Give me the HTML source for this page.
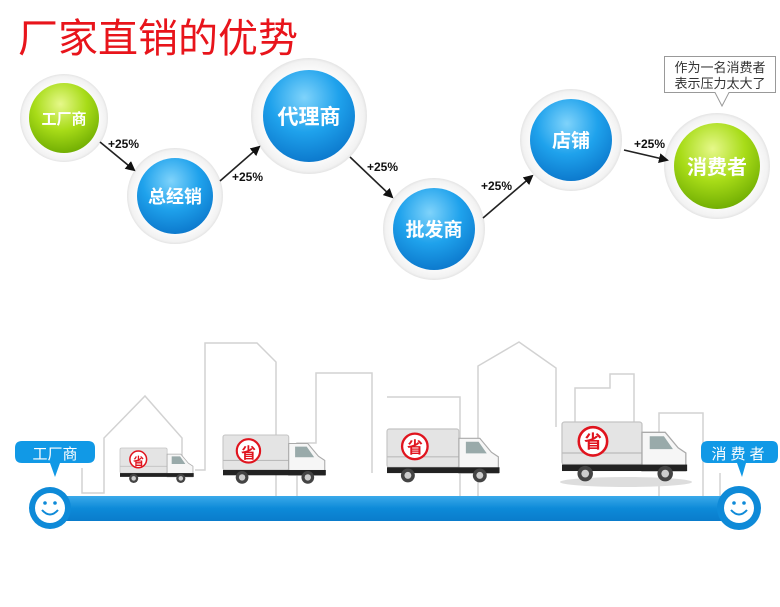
<!DOCTYPE html>
<html><head><meta charset="utf-8"><style>
html,body{margin:0;padding:0;background:#fff;}
body{width:780px;height:602px;overflow:hidden;font-family:"Liberation Sans","Noto Sans CJK SC",sans-serif;}
</style></head><body>
<svg width="780" height="602" viewBox="0 0 780 602" xmlns="http://www.w3.org/2000/svg" font-family="Liberation Sans, Noto Sans CJK SC, sans-serif">
<defs>
<radialGradient id="blue" cx="0.45" cy="0.3" r="0.75">
<stop offset="0" stop-color="#7fd3fb"/><stop offset="0.5" stop-color="#1fa2ec"/><stop offset="1" stop-color="#0a74c9"/></radialGradient>
<radialGradient id="green" cx="0.45" cy="0.3" r="0.75">
<stop offset="0" stop-color="#e6f88a"/><stop offset="0.5" stop-color="#a8dc18"/><stop offset="1" stop-color="#6aa800"/></radialGradient>
<radialGradient id="halo" cx="0.5" cy="0.5" r="0.5">
<stop offset="0.7" stop-color="#fff"/><stop offset="0.95" stop-color="#f2f2f2"/><stop offset="1" stop-color="#e4e4e4"/></radialGradient>
<linearGradient id="bar" x1="0" y1="0" x2="0" y2="1"><stop offset="0" stop-color="#3aa9ea"/><stop offset="0.5" stop-color="#0d8ad8"/><stop offset="1" stop-color="#0a7ccc"/></linearGradient>
<marker id="ah" markerWidth="10" markerHeight="10" refX="8" refY="5" orient="auto" markerUnits="userSpaceOnUse"><path d="M0,0 L10,5 L0,10 z" fill="#111"/></marker>
<g id="truck">
<rect x="0" y="0" width="62" height="33" rx="2" fill="#e4e4e4" stroke="#c4c4c4"/>
<line x1="0" y1="24" x2="62" y2="24" stroke="#bbb"/>
<path d="M62,8 L80,8 L90,20 L96,24 L96,38 L62,38 z" fill="#f6f6f6" stroke="#aaa"/>
<path d="M68,11 L79,11 L86,21 L68,21 z" fill="#9aa"/>
<rect x="0" y="33" width="97" height="5" fill="#222"/>
<circle cx="18" cy="40" r="6" fill="#444"/><circle cx="18" cy="40" r="3" fill="#ccc"/>
<circle cx="80" cy="40" r="6" fill="#444"/><circle cx="80" cy="40" r="3" fill="#ccc"/>
<circle cx="24" cy="15" r="11" fill="#fff" stroke="#e0141e" stroke-width="2"/>
</g>
</defs>

<text x="18" y="52" font-size="40" fill="#e8141b" font-family="Liberation Sans, Noto Sans CJK SC, sans-serif">厂家直销的优势</text>

<!-- circles -->
<circle cx="64" cy="118" r="44" fill="url(#halo)"/><circle cx="64" cy="118" r="35" fill="url(#green)"/>
<text x="64" y="124" font-size="15" font-weight="bold" fill="#fff" text-anchor="middle">工厂商</text>
<circle cx="175" cy="196" r="48" fill="url(#halo)"/><circle cx="175" cy="196" r="38" fill="url(#blue)"/>
<text x="175" y="203" font-size="18" font-weight="bold" fill="#fff" text-anchor="middle">总经销</text>
<circle cx="309" cy="116" r="58" fill="url(#halo)"/><circle cx="309" cy="116" r="46" fill="url(#blue)"/>
<text x="309" y="124" font-size="21" font-weight="bold" fill="#fff" text-anchor="middle">代理商</text>
<circle cx="434" cy="229" r="51" fill="url(#halo)"/><circle cx="434" cy="229" r="41" fill="url(#blue)"/>
<text x="434" y="236" font-size="19" font-weight="bold" fill="#fff" text-anchor="middle">批发商</text>
<circle cx="571" cy="140" r="51" fill="url(#halo)"/><circle cx="571" cy="140" r="41" fill="url(#blue)"/>
<text x="571" y="147" font-size="19" font-weight="bold" fill="#fff" text-anchor="middle">店铺</text>
<circle cx="717" cy="166" r="53" fill="url(#halo)"/><circle cx="717" cy="166" r="43" fill="url(#green)"/>
<text x="717" y="174" font-size="20" font-weight="bold" fill="#fff" text-anchor="middle">消费者</text>

<!-- arrows -->
<g stroke="#222" stroke-width="1.6" marker-end="url(#ah)">
<line x1="100" y1="142" x2="134" y2="170"/>
<line x1="220" y1="181" x2="259" y2="147"/>
<line x1="350" y1="157" x2="392" y2="197"/>
<line x1="483" y1="218" x2="532" y2="176"/>
<line x1="624" y1="150" x2="667" y2="160"/>
</g>
<g font-size="12" font-weight="bold" fill="#111">
<text x="108" y="148">+25%</text>
<text x="232" y="181">+25%</text>
<text x="367" y="171">+25%</text>
<text x="481" y="190">+25%</text>
<text x="634" y="148">+25%</text>
</g>

<!-- tooltip -->
<path d="M664.5,56.5 H775.5 V92.5 H729 L722,106 L715,92.5 H664.5 z" fill="#fff" stroke="#999"/>
<text x="720" y="72" font-size="13" fill="#333" text-anchor="middle">作为一名消费者</text>
<text x="720" y="88" font-size="13" fill="#333" text-anchor="middle">表示压力太大了</text>

<!-- buildings -->
<g fill="none" stroke="#d2d2d2" stroke-width="1.5">
<polyline points="82,468 82,493 104,493 104,438 145,396 182,438 182,470"/>
<polyline points="195,470 205,470 205,343 257,343 276,362 276,496"/>
<polyline points="297,497 297,443 316,443 316,373 372,373 372,473"/>
<polyline points="460,496 460,397 387,397"/>
<polyline points="478,496 478,366 519,342 556,368 556,427"/>
<polyline points="575,430 575,388 610,388 610,374 634,374 634,430"/>
<polyline points="659,496 659,413 703,413 703,496"/>
<polyline points="720,496 720,473"/>
</g>

<!-- trucks -->
<ellipse cx="626" cy="482" rx="66" ry="5" fill="#ddd"/>
<g transform="translate(120,448) scale(0.76)"><use href="#truck"/></g>
<text x="138.5" y="465" font-size="11" font-weight="bold" fill="#e0141e" text-anchor="middle">省</text>
<g transform="translate(223,435) scale(1.06)"><use href="#truck"/></g>
<text x="248.5" y="458" font-size="15" font-weight="bold" fill="#e0141e" text-anchor="middle">省</text>
<g transform="translate(387,429) scale(1.16)"><use href="#truck"/></g>
<text x="415" y="453" font-size="16" font-weight="bold" fill="#e0141e" text-anchor="middle">省</text>
<g transform="translate(562,422) scale(1.29)"><use href="#truck"/></g>
<text x="593" y="448" font-size="18" font-weight="bold" fill="#e0141e" text-anchor="middle">省</text>

<!-- bar -->
<rect x="40" y="496" width="700" height="25" fill="url(#bar)"/>
<circle cx="50" cy="508" r="21" fill="#0e8ad8"/><circle cx="50" cy="508" r="15" fill="#fff"/>
<circle cx="45" cy="503" r="1.8" fill="#0e8ad8"/><circle cx="55" cy="503" r="1.8" fill="#0e8ad8"/>
<path d="M42,510 Q50,519 58,510" fill="none" stroke="#0e8ad8" stroke-width="2"/>
<circle cx="739" cy="508" r="22" fill="#0e8ad8"/><circle cx="739" cy="508" r="15" fill="#fff"/>
<circle cx="734" cy="503" r="1.8" fill="#0e8ad8"/><circle cx="744" cy="503" r="1.8" fill="#0e8ad8"/>
<path d="M731,510 Q739,519 747,510" fill="none" stroke="#0e8ad8" stroke-width="2"/>

<!-- bubbles -->
<path d="M22,441 H88 Q95,441 95,448 V456 Q95,463 88,463 H60 L55,477 L50,463 H22 Q15,463 15,456 V448 Q15,441 22,441 z" fill="#1199e6"/>
<text x="55" y="459" font-size="15" fill="#fff" text-anchor="middle">工厂商</text>
<path d="M708,441 H772 Q778,441 778,448 V456 Q778,463 772,463 H746 L742,477 L737,463 H708 Q701,463 701,456 V448 Q701,441 708,441 z" fill="#1199e6"/>
<text x="740" y="459" font-size="15" fill="#fff" text-anchor="middle" letter-spacing="4">消费者</text>
</svg>
</body></html>
